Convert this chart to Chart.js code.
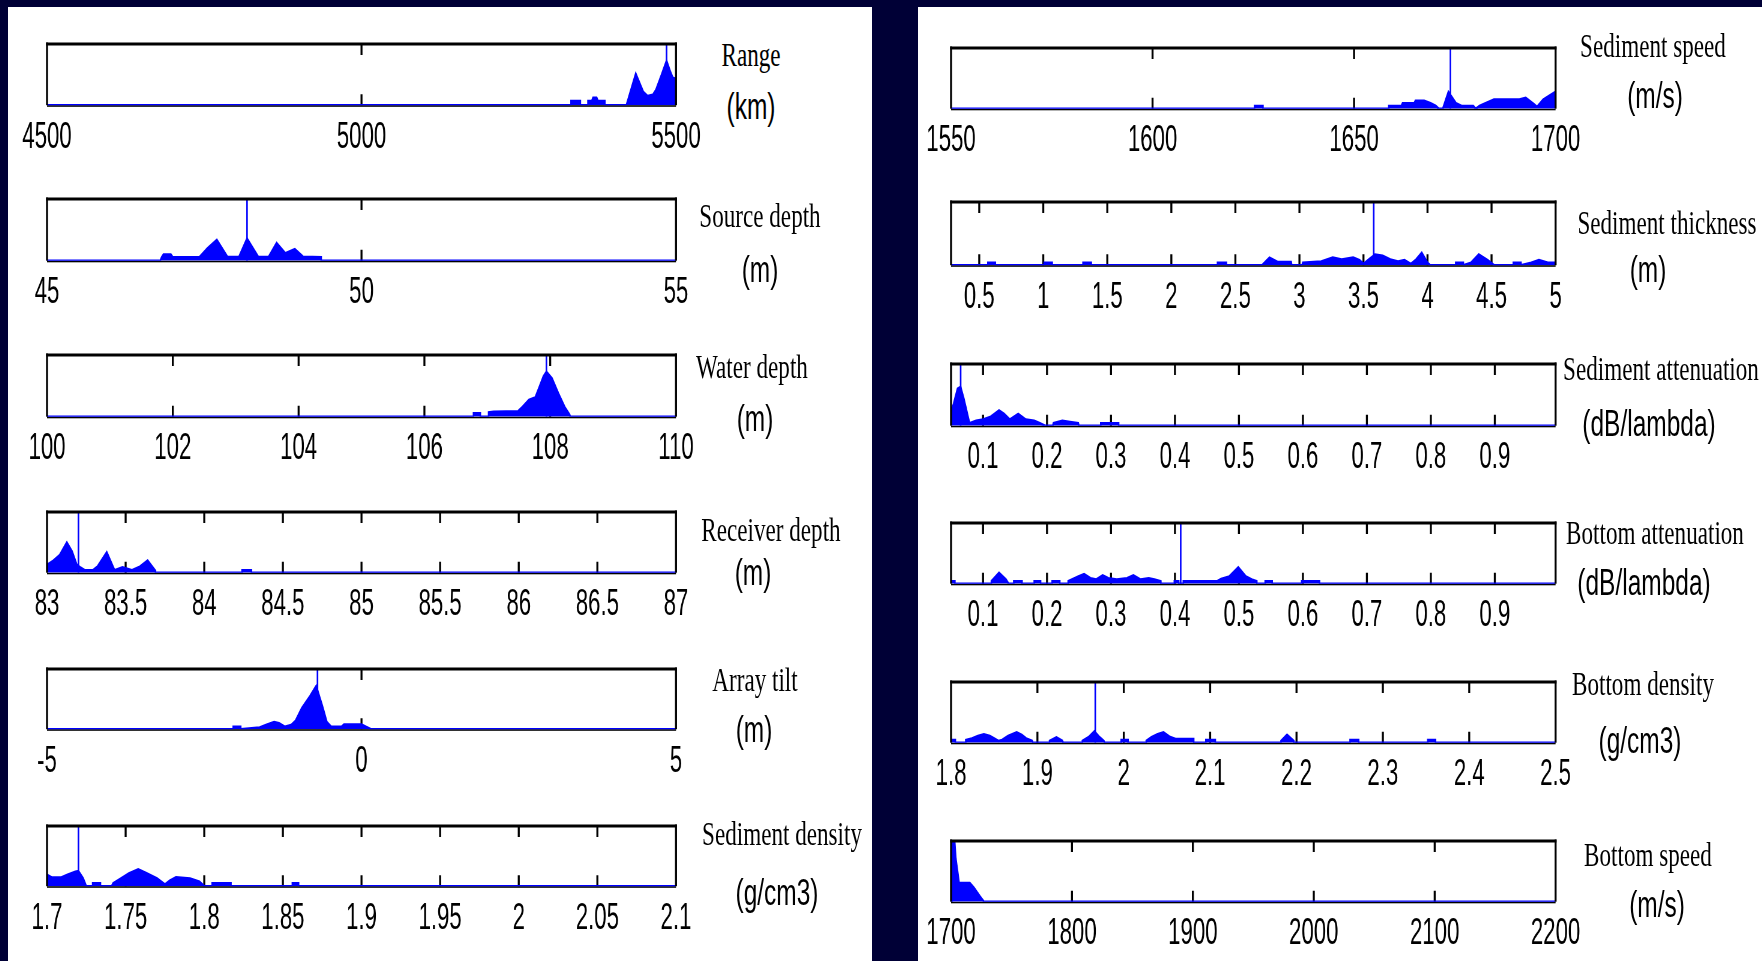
<!DOCTYPE html>
<html><head><meta charset="utf-8">
<script src="https://cdn.jsdelivr.net/npm/chart.js@4.4.1/dist/chart.umd.min.js"></script>
<style>
html,body{margin:0;padding:0;}
body{width:1762px;height:961px;background:#000036;position:relative;overflow:hidden;}
.panel{position:absolute;background:#fff;}
.cv{position:absolute;transform-origin:0 0;}
.t{position:absolute;white-space:nowrap;color:#000;line-height:1;transform-origin:50% 0;z-index:5;}
.ts{font-family:"Liberation Serif","DejaVu Serif",serif;font-size:34px;}
.tu{font-family:"Liberation Sans","Arial",sans-serif;font-size:36px;}
</style></head><body>
<div class="panel" style="left:8px;top:7px;width:864px;height:954px"></div>
<div class="panel" style="left:918px;top:7px;width:844px;height:954px"></div>
<script>
// ---------------- DATA ----------------
const rangeTicks = ['4500','5000','5500'];
const rangePts = [[4500,0],[5333,0],[5333,0.07],[5348,0.07],[5348,0],[5360,0],[5360,0.07],[5366,0.07],[5368,0.12],[5374,0.12],[5376,0.07],[5387,0.07],[5387,0],[5421,0],[5436,0.52],[5448,0.22],[5455,0.15],[5463,0.17],[5468,0.25],[5477,0.5],[5485,0.73],[5491,0.55],[5495,0.45],[5500,0.43]];
const rangeBest = 5485;

const sourceTicks = ['45','50','55'];
const sourcePts = [[45,0],[46.8,0],[46.82,0.05],[46.85,0.1],[46.97,0.1],[47.0,0.055],[47.42,0.055],[47.55,0.2],[47.7,0.34],[47.87,0.06],[48.05,0.06],[48.18,0.36],[48.36,0.06],[48.52,0.06],[48.65,0.29],[48.79,0.12],[48.94,0.19],[49.07,0.065],[49.36,0.055],[49.36,0],[55,0]];
const sourceBest = 48.18;

const waterTicks = ['100','102','104','106','108','110'];
const waterPts = [[100,0],[106.78,0],[106.78,0.054],[106.89,0.054],[106.89,0],[107.02,0],[107.02,0.07],[107.1,0.08],[107.49,0.09],[107.56,0.16],[107.66,0.27],[107.76,0.31],[107.83,0.49],[107.89,0.65],[107.94,0.73],[108.03,0.62],[108.13,0.38],[108.23,0.16],[108.31,0.03],[108.32,0],[110,0]];
const waterBest = 107.94;

const receiverTicks = ['83','83.5','84','84.5','85','85.5','86','86.5','87'];
const receiverPts = [[83,0.13],[83.04,0.2],[83.08,0.29],[83.126,0.5],[83.16,0.35],[83.19,0.13],[83.21,0.09],[83.24,0.04],[83.29,0.04],[83.32,0.1],[83.38,0.34],[83.43,0.04],[83.48,0.09],[83.54,0.04],[83.59,0.1],[83.64,0.2],[83.67,0.1],[83.69,0.03],[83.69,0],[84.24,0],[84.24,0.04],[84.3,0.04],[84.3,0],[87,0]];
const receiverBest = 83.2;

const tiltTicks = ['-5','0','5'];
const tiltPts = [[-5,0],[-2.04,0],[-2.04,0.04],[-1.92,0.04],[-1.92,0],[-1.62,0.03],[-1.52,0.07],[-1.39,0.12],[-1.31,0.1],[-1.22,0.04],[-1.12,0.07],[-1.05,0.14],[-0.95,0.35],[-0.82,0.55],[-0.72,0.72],[-0.62,0.38],[-0.55,0.12],[-0.48,0.04],[-0.32,0.04],[-0.28,0.08],[0,0.08],[0.07,0.04],[0.15,0],[5,0]];
const tiltBest = -0.70;

const sedDensTicks = ['1.7','1.75','1.8','1.85','1.9','1.95','2','2.05','2.1'];
const sedDensPts = [[1.7,0.19],[1.703,0.145],[1.709,0.145],[1.713,0.19],[1.718,0.24],[1.72,0.25],[1.723,0.13],[1.725,0],[1.729,0],[1.729,0.05],[1.734,0.05],[1.734,0],[1.741,0],[1.742,0.05],[1.747,0.13],[1.752,0.21],[1.758,0.28],[1.763,0.22],[1.77,0.13],[1.775,0.03],[1.778,0.09],[1.782,0.15],[1.791,0.13],[1.797,0.075],[1.8,0],[1.805,0],[1.805,0.05],[1.817,0.05],[1.817,0],[1.856,0],[1.856,0.05],[1.86,0.05],[1.86,0],[2.1,0]];
const sedDensBest = 1.72;

const sedSpeedTicks = ['1550','1600','1650','1700'];
const sedSpeedPts = [[1550,0],[1625.3,0],[1625.3,0.045],[1627.4,0.045],[1627.4,0],[1658.6,0],[1658.6,0.045],[1661.7,0.045],[1662,0.09],[1664.9,0.09],[1665.2,0.13],[1667.4,0.13],[1669,0.09],[1670.3,0.045],[1671,0],[1672,0],[1673.4,0.28],[1675.3,0.09],[1676.7,0.045],[1679.6,0.045],[1680.2,0],[1681.1,0.045],[1682.6,0.09],[1684.7,0.15],[1691,0.15],[1692.6,0.18],[1694.7,0.07],[1695.4,0.03],[1696.9,0.15],[1700,0.28]];
const sedSpeedBest = 1673.9;

const thickTicks = ['0.5','1','1.5','2','2.5','3','3.5','4','4.5','5'];
const thickPts = [[0.28,0],[0.567,0],[0.567,0.04],[0.626,0.04],[0.626,0],[1.007,0],[1.007,0.04],[1.07,0.04],[1.07,0],[1.31,0],[1.31,0.04],[1.375,0.04],[1.375,0],[2.36,0],[2.36,0.04],[2.43,0.04],[2.43,0],[2.707,0],[2.766,0.12],[2.83,0.05],[2.936,0.05],[2.94,0],[3.02,0],[3.026,0.04],[3.17,0.06],[3.26,0.12],[3.33,0.09],[3.42,0.12],[3.47,0.08],[3.5,0.02],[3.54,0.09],[3.59,0.17],[3.65,0.15],[3.71,0.09],[3.77,0.06],[3.82,0.08],[3.87,0.02],[3.91,0.09],[3.955,0.2],[4.0,0.04],[4.02,0],[4.22,0],[4.22,0.04],[4.28,0.04],[4.28,0],[4.34,0.04],[4.40,0.17],[4.47,0.08],[4.52,0],[4.67,0],[4.67,0.04],[4.73,0.04],[4.73,0],[4.81,0.04],[4.87,0.08],[4.94,0.04],[5.0,0.04]];
const thickBest = 3.58;

const sedAttTicks = ['0.1','0.2','0.3','0.4','0.5','0.6','0.7','0.8','0.9'];
const sedAttPts = [[0.05,0.22],[0.054,0.36],[0.06,0.6],[0.065,0.63],[0.07,0.44],[0.075,0.22],[0.079,0.04],[0.089,0.08],[0.1,0.1],[0.111,0.14],[0.125,0.25],[0.133,0.19],[0.142,0.1],[0.155,0.19],[0.167,0.1],[0.18,0.08],[0.189,0.04],[0.197,0],[0.209,0],[0.21,0.04],[0.224,0.08],[0.236,0.06],[0.249,0.04],[0.25,0],[0.284,0],[0.284,0.04],[0.312,0.04],[0.312,0],[0.995,0]];
const sedAttBest = 0.065;

const botAttTicks = ['0.1','0.2','0.3','0.4','0.5','0.6','0.7','0.8','0.9'];
const botAttPts = [[0.05,0.04],[0.056,0.04],[0.056,0],[0.113,0],[0.113,0.04],[0.125,0.18],[0.136,0.07],[0.14,0],[0.148,0],[0.148,0.04],[0.161,0.04],[0.161,0],[0.18,0],[0.18,0.04],[0.19,0.04],[0.19,0],[0.208,0],[0.208,0.04],[0.22,0.04],[0.22,0],[0.233,0],[0.233,0.04],[0.249,0.12],[0.258,0.16],[0.268,0.09],[0.277,0.07],[0.287,0.14],[0.296,0.09],[0.309,0.07],[0.325,0.09],[0.335,0.14],[0.346,0.07],[0.359,0.09],[0.368,0.07],[0.378,0.04],[0.378,0],[0.399,0],[0.399,0.04],[0.406,0.04],[0.406,0],[0.413,0],[0.413,0.04],[0.466,0.04],[0.472,0.08],[0.485,0.12],[0.499,0.27],[0.511,0.12],[0.52,0.07],[0.528,0.04],[0.528,0],[0.541,0],[0.541,0.04],[0.552,0.04],[0.552,0],[0.598,0],[0.598,0.04],[0.626,0.04],[0.626,0],[0.995,0]];
const botAttBest = 0.409;

const botDensTicks = ['1.8','1.9','2','2.1','2.2','2.3','2.4','2.5'];
const botDensPts = [[1.8,0.045],[1.805,0.045],[1.805,0],[1.817,0],[1.817,0.045],[1.824,0.07],[1.831,0.11],[1.838,0.14],[1.845,0.11],[1.85,0.07],[1.855,0.03],[1.859,0.045],[1.866,0.11],[1.876,0.17],[1.882,0.13],[1.887,0.07],[1.894,0.03],[1.895,0],[1.914,0],[1.914,0.03],[1.922,0.09],[1.929,0.03],[1.93,0],[1.952,0],[1.952,0.03],[1.959,0.09],[1.966,0.19],[1.972,0.09],[1.977,0.03],[1.978,0],[1.997,0],[1.997,0.045],[2.005,0.045],[2.005,0],[2.026,0],[2.026,0.03],[2.032,0.09],[2.039,0.14],[2.046,0.17],[2.053,0.1],[2.06,0.06],[2.081,0.06],[2.081,0],[2.095,0],[2.095,0.045],[2.106,0.045],[2.106,0],[2.182,0],[2.182,0.03],[2.189,0.13],[2.197,0.03],[2.197,0],[2.262,0],[2.262,0.045],[2.272,0.045],[2.272,0],[2.352,0],[2.352,0.045],[2.361,0.045],[2.361,0],[2.5,0]];
const botDensBest = 1.967;

const botSpeedTicks = ['1700','1800','1900','2000','2100','2200'];
const botSpeedPts = [[1700,1.0],[1703,1.0],[1704,0.71],[1706.7,0.31],[1715.6,0.31],[1719,0.23],[1724,0.085],[1727.3,0],[2200,0]];
const botSpeedBest = 1701;

// ---------------- LAYOUT ----------------
const BLUE = '#0000ff';
const TICK_FONT = '"Liberation Sans",Arial,sans-serif';
const SX = 0.6;              // horizontal condensing of each chart canvas (narrow MATLAB-style lettering)
const LX = [47, 676], RX = [951, 1555];

const panels = [
  {geo:[LX,44,104],   min:4500, max:5500, ticks:rangeTicks,    pts:rangePts,    best:rangeBest},
  {geo:[LX,199,260],  min:45,   max:55,   ticks:sourceTicks,   pts:sourcePts,   best:sourceBest},
  {geo:[LX,355,416],  min:100,  max:110,  ticks:waterTicks,    pts:waterPts,    best:waterBest},
  {geo:[LX,512,571],  min:83,   max:87,   ticks:receiverTicks, pts:receiverPts, best:receiverBest},
  {geo:[LX,669,727],  min:-5,   max:5,    ticks:tiltTicks,     pts:tiltPts,     best:tiltBest},
  {geo:[LX,826,884],  min:1.7,  max:2.1,  ticks:sedDensTicks,  pts:sedDensPts,  best:sedDensBest},
  {geo:[RX,48,107],   min:1550, max:1700, ticks:sedSpeedTicks, pts:sedSpeedPts, best:sedSpeedBest},
  {geo:[RX,202,266],  min:0.28, max:5,    ticks:thickTicks,    pts:thickPts,    best:thickBest},
  {geo:[RX,364,425],  min:0.05, max:0.995,ticks:sedAttTicks,   pts:sedAttPts,   best:sedAttBest},
  {geo:[RX,523,582],  min:0.05, max:0.995,ticks:botAttTicks,   pts:botAttPts,   best:botAttBest},
  {geo:[RX,682,741],  min:1.8,  max:2.5,  ticks:botDensTicks,  pts:botDensPts,  best:botDensBest},
  {geo:[RX,841,900],  min:1700, max:2200, ticks:botSpeedTicks, pts:botSpeedPts, best:botSpeedBest}
];

const titles = [
  ['Range', 751, 66, 's'], ['(km)', 751, 119, 'u'],
  ['Source depth', 760, 227, 's'], ['(m)', 760, 282, 'u'],
  ['Water depth', 752, 378, 's'], ['(m)', 755, 431, 'u'],
  ['Receiver depth', 771, 541, 's'], ['(m)', 753, 585, 'u'],
  ['Array tilt', 755, 691, 's'], ['(m)', 754, 742, 'u'],
  ['Sediment density', 782, 845, 's'], ['(g/cm3)', 777, 905, 'u'],
  ['Sediment speed', 1653, 57, 's'], ['(m/s)', 1655, 108, 'u'],
  ['Sediment thickness', 1667, 234, 's'], ['(m)', 1648, 282, 'u'],
  ['Sediment attenuation', 1661, 380, 's'], ['(dB/lambda)', 1649, 436, 'u'],
  ['Bottom attenuation', 1655, 544, 's'], ['(dB/lambda)', 1644, 595, 'u'],
  ['Bottom density', 1643, 695, 's'], ['(g/cm3)', 1640, 753, 'u'],
  ['Bottom speed', 1648, 866, 's'], ['(m/s)', 1657, 917, 'u']
];

titles.forEach(([txt, cx, base, kind]) => {
  const d = document.createElement('div');
  d.className = 't ' + (kind === 's' ? 'ts' : 'tu');
  d.textContent = txt;
  const fs = kind === 's' ? 34 : 36;
  const asc = kind === 's' ? 0.8375 : 0.8465;
  d.style.left = cx + 'px';
  d.style.top = (base - asc * fs) + 'px';
  d.style.transform = 'translateX(-50%) scaleX(0.68)';
  document.body.appendChild(d);
});

const boxPlugin = {
  id: 'matlabBox',
  beforeDatasetsDraw(chart) {
    const {ctx, chartArea: a, scales: {x}} = chart;
    ctx.save();
    ctx.fillStyle = '#000';
    ctx.fillRect(a.left, a.bottom, a.right - a.left, 1.6);
    ctx.strokeStyle = '#000';
    ctx.lineWidth = 2 / SX;
    x.ticks.forEach(t => {
      const px = x.getPixelForValue(t.value);
      if (px <= a.left + 5 || px >= a.right - 5) return;
      ctx.beginPath();
      ctx.moveTo(px, a.top); ctx.lineTo(px, a.top + 11);
      ctx.moveTo(px, a.bottom); ctx.lineTo(px, a.bottom - 11);
      ctx.stroke();
    });
    ctx.restore();
  },
  afterDatasetsDraw(chart) {
    const {ctx, chartArea: a} = chart;
    const w = 2 / SX;
    ctx.save();
    ctx.fillStyle = '#000';
    ctx.fillRect(a.left - w / 2, a.top - 1.5, a.right - a.left + w, 3);
    ctx.fillRect(a.left - w / 2, a.top - 1.5, w, a.bottom - a.top + 1.5);
    ctx.fillRect(a.right - w / 2, a.top - 1.5, w, a.bottom - a.top + 1.5);
    ctx.restore();
  }
};

panels.forEach(p => {
  const [[L, R], T, B] = p.geo;
  const padL = 75, padR = 75, padT = 10, fs = 37, tp = 10;
  const axisH = 1.2 * fs + tp + 8;   // measured height of the x axis block
  const total = (B - T) + padT + 80;
  const padB = total - (B - T) - padT - axisH;
  const div = document.createElement('div');
  div.className = 'cv';
  div.style.left = (L - SX * padL) + 'px';
  div.style.top = (T - padT) + 'px';
  div.style.width = ((R - L) / SX + padL + padR) + 'px';
  div.style.height = total + 'px';
  div.style.transform = 'scaleX(' + SX + ')';
  const cv = document.createElement('canvas');
  div.appendChild(cv);
  document.body.appendChild(div);
  const tickVals = p.ticks.map(Number);
  new Chart(cv, {
    type: 'line',
    data: {
      datasets: [
        {data: p.pts.map(([x, y]) => ({x, y})), fill: 'origin', backgroundColor: BLUE,
         borderColor: BLUE, borderWidth: 2.5, pointRadius: 0, tension: 0, order: 2},
        {data: [{x: p.best, y: 0}, {x: p.best, y: 1}], fill: false, borderColor: BLUE,
         borderWidth: 1.6 / SX, pointRadius: 0, tension: 0, order: 1}
      ]
    },
    options: {
      responsive: true, maintainAspectRatio: false, animation: false,
      layout: {padding: {left: padL, right: padR, top: padT, bottom: padB}},
      plugins: {legend: {display: false}, tooltip: {enabled: false}},
      events: [],
      scales: {
        x: {
          type: 'linear', min: p.min, max: p.max,
          afterBuildTicks: s => { s.ticks = tickVals.map(v => ({value: v})); },
          ticks: {
            autoSkip: false, maxRotation: 0, minRotation: 0, padding: tp, color: '#000',
            font: {family: TICK_FONT, size: fs},
            callback: (v) => { const i = tickVals.indexOf(v); return i >= 0 ? p.ticks[i] : ''; }
          },
          grid: {display: false, drawTicks: false},
          border: {display: false}
        },
        y: {type: 'linear', min: 0, max: 1, display: false}
      }
    },
    plugins: [boxPlugin]
  });
});
</script>
</body></html>
